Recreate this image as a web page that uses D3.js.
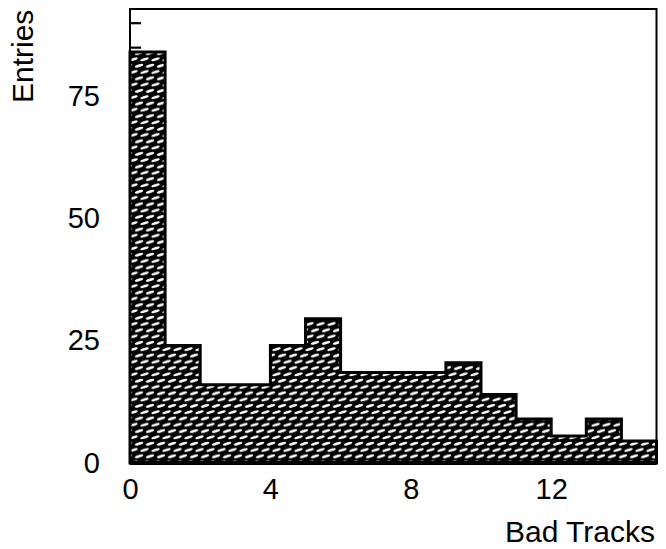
<!DOCTYPE html>
<html lang="en">
<head>
<meta charset="utf-8">
<title>Bad Tracks</title>
<script src="https://cdn.jsdelivr.net/npm/d3@7"></script>
<style>
  body { margin: 0; background: white; }
  svg text { font-family: "Liberation Sans", Arial, sans-serif; fill: black; }
</style>
</head>
<body>
<div id="chart"></div>
<script>
// histogram bins (lower edge) and entries
var binEdges = [0, 1, 2, 3, 4, 5, 6, 7, 8, 9, 10, 11, 12, 13, 14, 15];
var entries  = [84, 24, 16, 16, 24, 29.5, 18.5, 18.5, 18.5, 20.5, 14, 9, 5.5, 9, 4.5];
var xTicks = [0, 4, 8, 12];
var yTicks = [0, 25, 50, 75];
var yTopTicks = [85, 90];   // only two small ticks survive on the left edge
var xDomain = [0, 15];
var yDomain = [0, 92.8];

var W = 666, H = 549;
var m = {top: 9, right: 9.5, bottom: 86, left: 130};
var w = W - m.left - m.right, h = H - m.top - m.bottom;

var svg = d3.select("#chart").append("svg")
    .attr("width", W).attr("height", H);

// hatch: black with staggered slanted white dashes
var defs = svg.append("defs");
var pat = defs.append("pattern")
    .attr("id", "hatch")
    .attr("patternUnits", "userSpaceOnUse")
    .attr("width", 11).attr("height", 12.6)
    .attr("x", m.left).attr("y", m.top + h);
pat.append("rect").attr("width", 11).attr("height", 12.6).attr("fill", "black");
[[5.5, 3.15], [0, 9.45], [11, 9.45]].forEach(function(p) {
  pat.append("ellipse")
     .attr("cx", p[0]).attr("cy", p[1])
     .attr("rx", 4.4).attr("ry", 1.3)
     .attr("transform", "rotate(-17," + p[0] + "," + p[1] + ")")
     .attr("fill", "white");
});

var g = svg.append("g").attr("transform", "translate(" + m.left + "," + m.top + ")");

var x = d3.scaleLinear().domain(xDomain).range([0, w]);
var y = d3.scaleLinear().domain(yDomain).range([h, 0]);

var bins = entries.map(function(v, i) { return {x0: binEdges[i], x1: binEdges[i + 1], v: v}; });

// histogram as one stepped shape, hatched and outlined
var pts = [[0, 0]];
bins.forEach(function(d) { pts.push([d.x0, d.v]); pts.push([d.x1, d.v]); });
pts.push([bins[bins.length - 1].x1, 0]);
var line = d3.line().x(function(d) { return x(d[0]); }).y(function(d) { return y(d[1]); });
g.append("path")
  .attr("d", line(pts) + "Z")
  .attr("fill", "url(#hatch)")
  .attr("stroke", "black")
  .attr("stroke-width", 3)
  .attr("stroke-linejoin", "miter");

// frame
g.append("rect")
  .attr("width", w).attr("height", h)
  .attr("fill", "none")
  .attr("stroke", "black")
  .attr("stroke-width", 2);
g.append("line")
  .attr("x1", 0).attr("x2", w).attr("y1", h).attr("y2", h)
  .attr("stroke", "black").attr("stroke-width", 4);

// axes
var yAxis = g.append("g")
  .call(d3.axisLeft(y).tickValues(yTicks).tickSize(0).tickPadding(30));
yAxis.select(".domain").remove();

var yTop = g.append("g")
  .call(d3.axisRight(y).tickValues(yTopTicks).tickSize(11).tickFormat(""));
yTop.select(".domain").remove();
yTop.selectAll("line").attr("stroke-width", 2.2);

var xAxis = g.append("g").attr("transform", "translate(0," + h + ")")
  .call(d3.axisBottom(x).tickValues(xTicks).tickSize(0).tickPadding(15.5));
xAxis.select(".domain").remove();

svg.selectAll(".tick text").attr("font-family", null).attr("font-size", null)
  .style("font-size", "29px");

// axis titles
svg.append("text")
  .attr("x", 655).attr("y", 542)
  .attr("text-anchor", "end")
  .style("font-size", "30px")
  .text("Bad Tracks");

svg.append("text")
  .attr("transform", "translate(33,103) rotate(-90)")
  .attr("text-anchor", "start")
  .style("font-size", "30px")
  .text("Entries");
</script>
</body>
</html>
